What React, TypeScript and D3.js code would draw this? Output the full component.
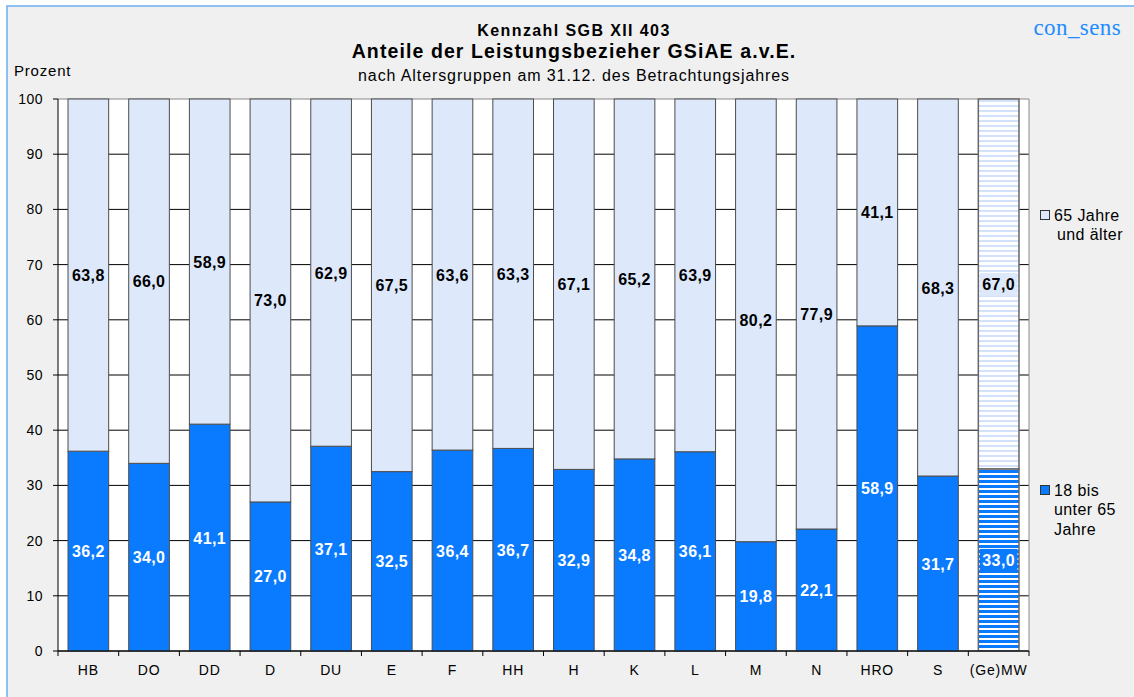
import React from "react";
import * as d3 from "d3";

// Kennzahl SGB XII 403 – shares of benefit recipients by age group
const categories = ["HB", "DO", "DD", "D", "DU", "E", "F", "HH", "H", "K", "L", "M", "N", "HRO", "S", "(Ge)MW"];
const under65 = [36.2, 34.0, 41.1, 27.0, 37.1, 32.5, 36.4, 36.7, 32.9, 34.8, 36.1, 19.8, 22.1, 58.9, 31.7, 33.0];
const over65 = [63.8, 66.0, 58.9, 73.0, 62.9, 67.5, 63.6, 63.3, 67.1, 65.2, 63.9, 80.2, 77.9, 41.1, 68.3, 67.0];
const yTicks = [0, 10, 20, 30, 40, 50, 60, 70, 80, 90, 100];
const averageCategory = "(Ge)MW";

const W = 1134;
const H = 697;
const plot = { left: 58, right: 1029, top: 99, bottom: 651 };

const BLUE = "#0a7bff";
const LIGHT = "#dde8fb";
const FONT = "Arial, 'Liberation Sans', sans-serif";

const fmt = (v: number) => v.toFixed(1).replace(".", ",");

export default function App() {
  const x = d3.scaleBand<string>().domain(categories).range([plot.left, plot.right]).paddingInner(0.33).paddingOuter(0.165);
  const xTickScale = d3.scaleBand<string>().domain(categories).range([plot.left, plot.right]);
  const y = d3.scaleLinear().domain([0, 100]).range([plot.bottom, plot.top]);
  const bw = x.bandwidth();

  return (
    <svg width={W} height={H} style={{ position: "absolute", left: 0, top: 0, background: "#fff" }} fontFamily={FONT}>
      <defs>
        <pattern id="stripeLow" width="8" height="5" patternUnits="userSpaceOnUse">
          <rect width="8" height="5" fill="#ffffff" />
          <rect width="8" height="3" fill={BLUE} />
        </pattern>
        <pattern id="stripeHigh" width="8" height="5" patternUnits="userSpaceOnUse">
          <rect width="8" height="5" fill="#ffffff" />
          <rect width="8" height="2" fill="#d3e1fa" />
        </pattern>
      </defs>

      {/* chart frame */}
      <rect x={7} y={6} width={W + 10} height={H + 10} fill="#f0f0f0" stroke="#6aaef2" strokeWidth={1.5} />

      {/* titles */}
      <text x={574} y={36} textAnchor="middle" fontSize={16} letterSpacing={1.4} fontWeight="bold" fill="#000">Kennzahl SGB XII 403</text>
      <text x={574} y={58} textAnchor="middle" fontSize={19.5} letterSpacing={1.1} fontWeight="bold" fill="#000">Anteile der Leistungsbezieher GSiAE a.v.E.</text>
      <text x={574} y={81} textAnchor="middle" fontSize={16} letterSpacing={0.9} fill="#000">nach Altersgruppen am 31.12. des Betrachtungsjahres</text>
      <text x={1121} y={35} textAnchor="end" fontSize={23} letterSpacing={0.4} fill="#1e8cff" fontFamily="'Liberation Serif', 'DejaVu Serif', serif">con_sens</text>
      <text x={14} y={76} fontSize={15} letterSpacing={0.8} fill="#000">Prozent</text>

      {/* plot area */}
      <rect x={plot.left} y={plot.top} width={plot.right - plot.left} height={plot.bottom - plot.top} fill="#fff" />
      {yTicks.map((t) => (
        <g key={t}>
          <line x1={plot.left} x2={plot.right} y1={y(t)} y2={y(t)} stroke={t === 100 ? "#888" : "#000"} strokeWidth={1} />
          <line x1={plot.left - 5} x2={plot.left} y1={y(t)} y2={y(t)} stroke="#000" />
          <text x={43} y={y(t) + 5} textAnchor="end" fontSize={14} letterSpacing={0.5} fill="#000">{t}</text>
        </g>
      ))}
      <line x1={plot.right} x2={plot.right} y1={plot.top} y2={plot.bottom} stroke="#888" />

      {/* stacked bars */}
      {categories.map((c, i) => {
        const x0 = x(c)!;
        const cx = x0 + bw / 2;
        const avg = c === averageCategory;
        const low = under65[i];
        const high = over65[i];
        const yLow = y(low);
        const yTop = y(low + high);
        const lowMid = y(low / 2);
        const highMid = y(low + high / 2);
        const lowLabel = fmt(low);
        const highLabel = fmt(high);
        const lw = bw - 3;
        const stroke = avg ? "#666" : "#4d4d4d";
        const sw = avg ? 1.5 : 1;
        return (
          <g key={c}>
            <rect x={x0} y={yLow} width={bw} height={plot.bottom - yLow} fill={avg ? "url(#stripeLow)" : BLUE} stroke={stroke} strokeWidth={sw} />
            <rect x={x0} y={yTop} width={bw} height={yLow - yTop} fill={avg ? "url(#stripeHigh)" : LIGHT} stroke={stroke} strokeWidth={sw} />
            <rect x={cx - lw / 2} y={lowMid - 11} width={lw} height={23} fill={BLUE} />
            <text x={cx} y={lowMid + 6} textAnchor="middle" fontSize={16} letterSpacing={0.4} fontWeight="bold" fill="#fff">{lowLabel}</text>
            <rect x={cx - lw / 2} y={highMid - 11} width={lw} height={23} fill={LIGHT} />
            <text x={cx} y={highMid + 6} textAnchor="middle" fontSize={16} letterSpacing={0.4} fontWeight="bold" fill="#000">{highLabel}</text>
          </g>
        );
      })}

      {/* x axis */}
      <line x1={plot.left} x2={plot.right} y1={plot.bottom} y2={plot.bottom} stroke="#000" />
      <line x1={plot.left} x2={plot.left} y1={plot.top} y2={plot.bottom} stroke="#000" />
      {categories.map((c) => (
        <line key={"t" + c} x1={xTickScale(c)!} x2={xTickScale(c)!} y1={plot.bottom} y2={plot.bottom + 5} stroke="#000" />
      ))}
      <line x1={plot.right} x2={plot.right} y1={plot.bottom} y2={plot.bottom + 5} stroke="#000" />
      {categories.map((c) => (
        <text key={"l" + c} x={xTickScale(c)! + xTickScale.bandwidth() / 2} y={675} textAnchor="middle" fontSize={14} letterSpacing={0.8} fill="#000">{c}</text>
      ))}

      {/* legend */}
      <rect x={1040.5} y={210.5} width={9} height={9} fill={LIGHT} stroke="#333" />
      <text x={1054} y={221} fontSize={16} letterSpacing={0.4} fill="#000">65 Jahre</text>
      <text x={1057} y={240} fontSize={16} letterSpacing={0.4} fill="#000">und älter</text>
      <rect x={1040.5} y={485.5} width={9} height={9} fill={BLUE} stroke="#333" />
      <text x={1054} y={496} fontSize={16} letterSpacing={0.4} fill="#000">18 bis</text>
      <text x={1054} y={515} fontSize={16} letterSpacing={0.4} fill="#000">unter 65</text>
      <text x={1054} y={535} fontSize={16} letterSpacing={0.4} fill="#000">Jahre</text>
    </svg>
  );
}
